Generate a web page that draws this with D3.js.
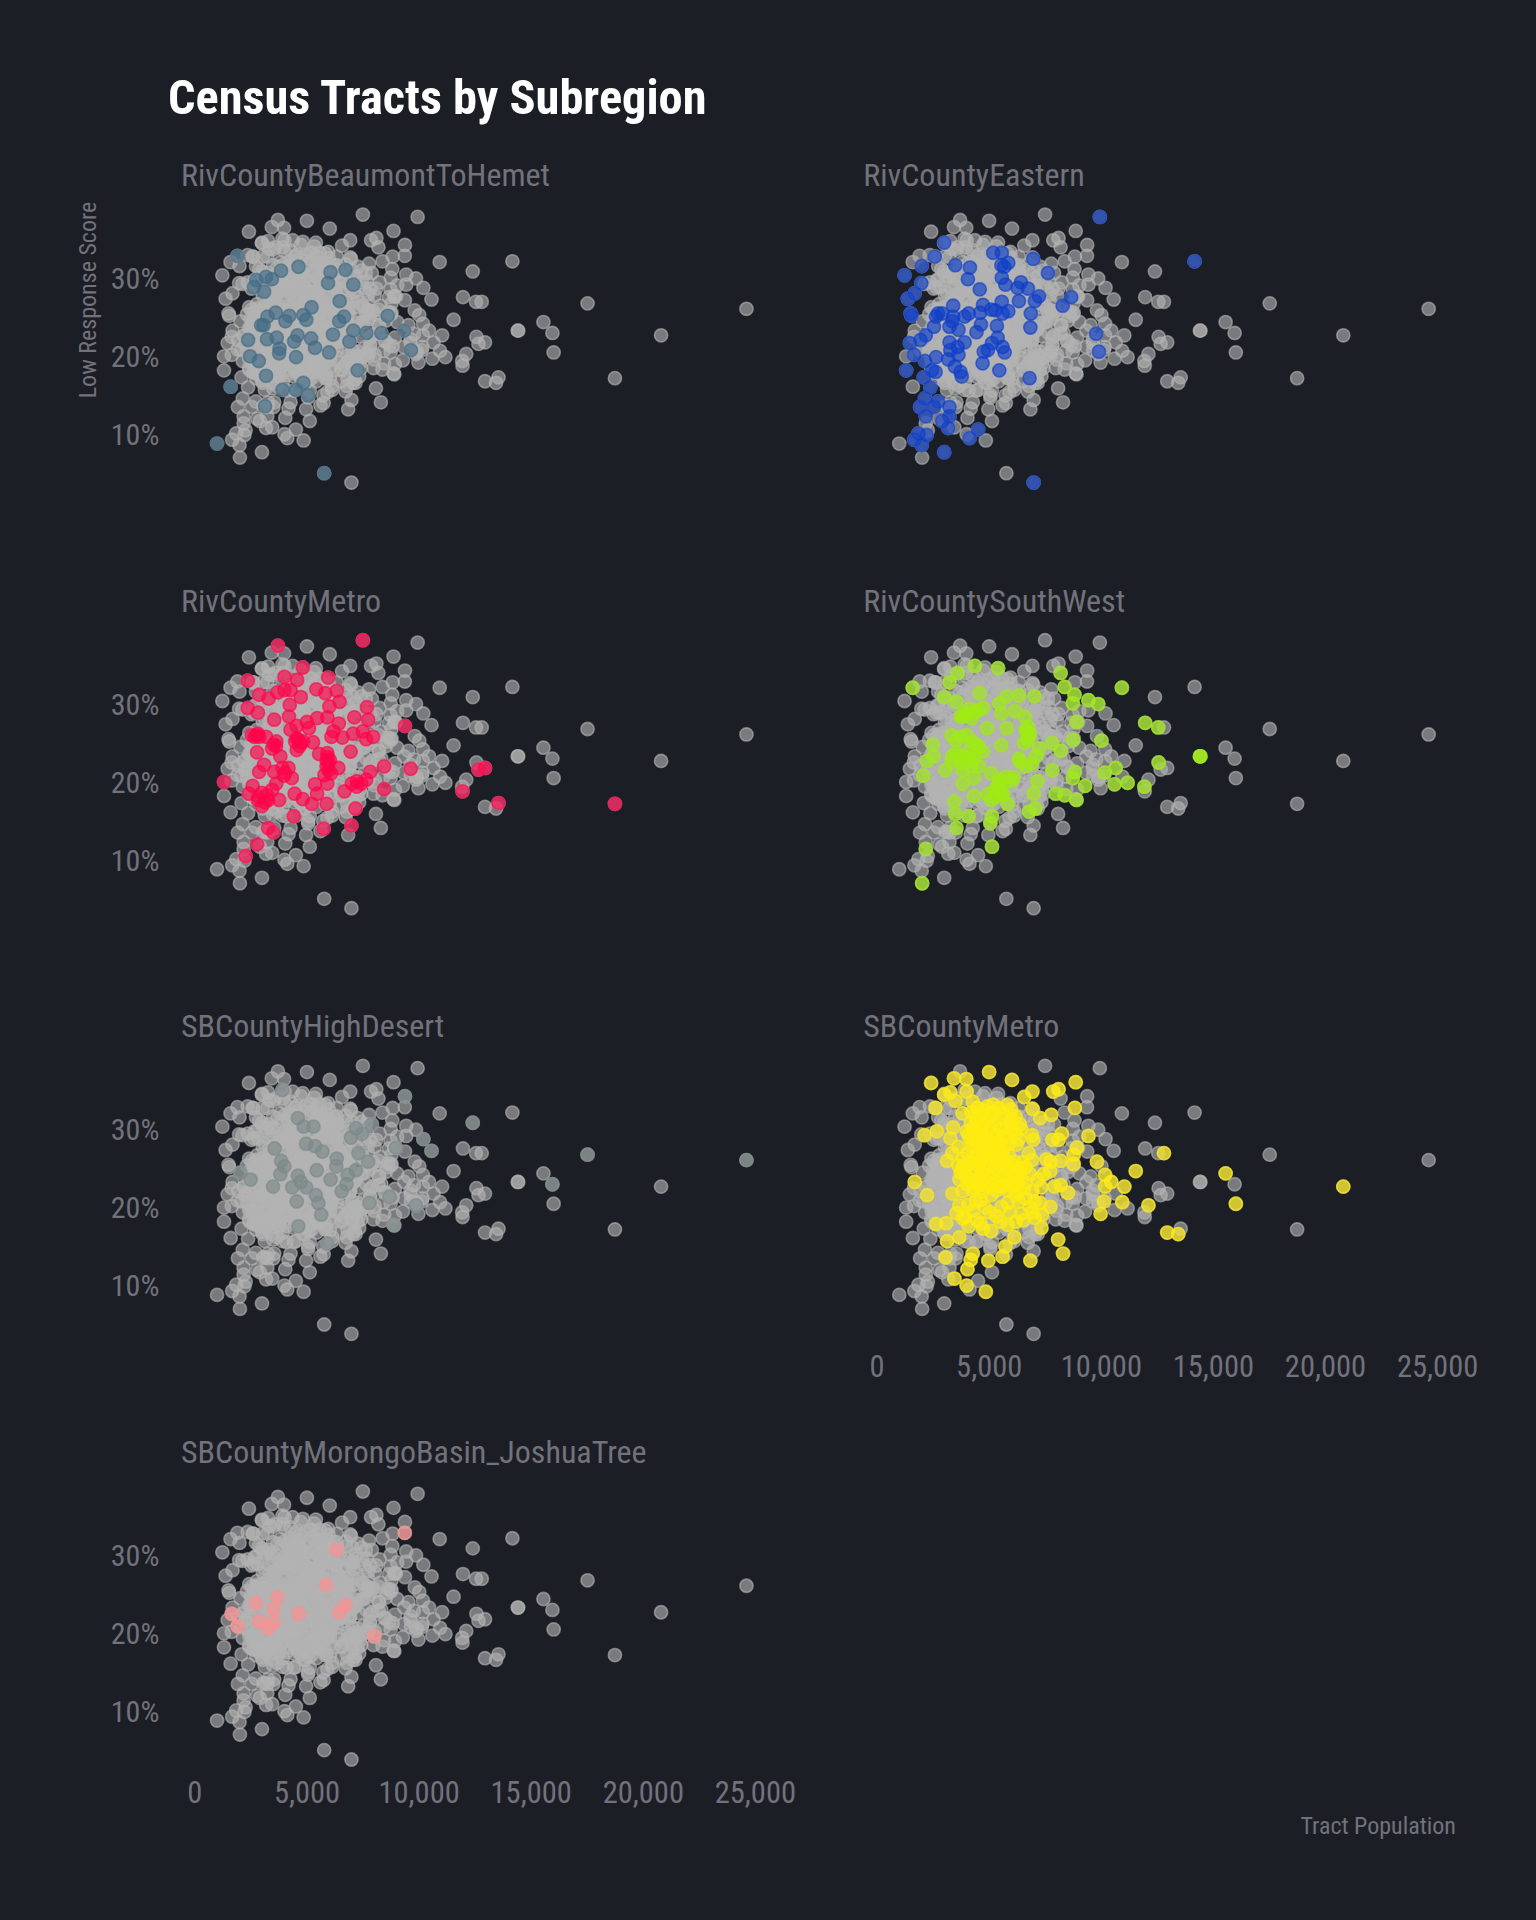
<!DOCTYPE html>
<html>
<head>
<meta charset="utf-8">
<script src="https://cdnjs.cloudflare.com/ajax/libs/d3/7.8.5/d3.min.js"></script>
<style>
  html, body { margin: 0; padding: 0; background: #1c1e26; }
  svg { display: block; }
  text { font-family: "Roboto Condensed", Roboto, sans-serif; font-stretch: condensed; }
</style>
</head>
<body>
<div id="chart"></div>
<script>
// [tract population, low response score %]
const beaumontToHemet = [[1874,33.1],[4599,31.7],[3820,31.2],[6026,31.0],[6696,31.3],[3410,30.1],[3150,30.4],[2718,30.0],[2610,29.1],[3064,28.5],[5917,29.6],[7042,29.4],[6436,27.3],[5182,26.5],[3582,25.8],[3215,25.3],[2934,24.2],[3042,24.2],[4015,24.7],[4188,25.4],[4815,25.5],[4945,24.9],[6631,25.3],[6415,24.7],[7042,23.5],[6134,23.0],[7625,23.2],[8296,23.2],[8577,25.4],[9312,23.5],[9614,21.0],[2350,22.3],[3193,22.4],[3626,22.6],[4555,22.9],[4404,22.1],[5161,22.5],[5334,21.3],[6869,22.1],[3755,21.2],[3734,20.6],[2437,20.2],[2826,19.6],[4490,20.1],[5961,20.7],[3150,17.7],[1572,16.3],[3885,15.9],[4490,15.9],[4815,16.8],[5031,15.2],[7236,18.4],[3107,13.8],[966,9.0],[5744,5.2]];
const eastern = [[9912,38.1],[14139,32.4],[6960,4.0],[2970,7.9],[2970,34.8],[2551,33.0],[1968,31.8],[1203,30.6],[1950,29.6],[1658,28.3],[1348,27.6],[1476,25.7],[1512,25.4],[3462,31.9],[4118,31.6],[4027,30.1],[4555,28.8],[5156,33.5],[5539,33.5],[5830,32.2],[5521,31.9],[5648,31.7],[5539,30.3],[5703,29.4],[6942,32.7],[7598,30.9],[6395,29.7],[6249,29.0],[6705,28.9],[7197,27.9],[7015,27.3],[6304,27.3],[6833,25.7],[6814,23.9],[8636,27.8],[8254,26.7],[9748,23.1],[9875,20.8],[6778,17.4],[5430,18.4],[4683,19.3],[4737,20.8],[4919,21.0],[5666,20.7],[5575,21.4],[5102,21.9],[5357,22.6],[5320,24.1],[4610,24.3],[4409,23.3],[5539,27.2],[5830,26.0],[5575,25.7],[5247,26.1],[5065,26.2],[4701,26.8],[4573,25.8],[4063,25.7],[3881,25.3],[3371,26.7],[3371,25.3],[3334,24.7],[3608,23.6],[3207,24.0],[2697,25.7],[2605,25.3],[2514,24.0],[2879,25.7],[2150,22.9],[1913,22.3],[1439,21.9],[1622,20.4],[2114,19.6],[2605,20.1],[2423,18.4],[2587,18.2],[3152,19.8],[3207,22.0],[3571,21.4],[3881,22.0],[3243,21.0],[3608,20.4],[3444,18.9],[3699,18.2],[3753,17.6],[1275,18.4],[2059,17.5],[2350,16.2],[2114,14.8],[2697,14.4],[1895,13.7],[2514,13.7],[3207,13.7],[2150,12.5],[3207,12.5],[2879,11.9],[3152,11.0],[4482,10.8],[4100,9.7],[2186,10.1],[1822,10.3],[1640,9.5],[1968,8.8]];
const rivMetro = [[7470,38.4],[3680,37.7],[4792,34.9],[2332,33.2],[3972,33.7],[4537,33.3],[5922,33.6],[2842,31.4],[3261,30.9],[3662,31.7],[3972,32.0],[4245,32.0],[4701,31.1],[5393,32.1],[5794,31.6],[6304,31.9],[6432,30.5],[5976,29.9],[4209,30.1],[2332,29.7],[2788,29.1],[3516,28.2],[4172,28.6],[7652,29.8],[7088,28.5],[7707,28.2],[6395,27.7],[4974,27.9],[5430,28.4],[5885,28.5],[4519,27.4],[4245,26.9],[5065,27.1],[9347,27.4],[2788,26.4],[2514,26.2],[3152,26.0],[3608,25.4],[3425,24.5],[4519,25.8],[4701,25.2],[4519,24.3],[5247,25.3],[6158,26.7],[6067,26.0],[6559,25.9],[7033,26.4],[7470,26.7],[7616,25.7],[7926,26.0],[6924,24.1],[2751,24.0],[3790,23.5],[5521,23.8],[5885,23.9],[5940,22.6],[6377,22.0],[5940,21.7],[5758,21.1],[3061,22.4],[2842,21.5],[3516,21.5],[3881,22.0],[4154,22.0],[4300,20.7],[3608,20.0],[2551,19.7],[2387,18.7],[2970,18.8],[2788,17.9],[3425,19.2],[3243,17.9],[2970,17.1],[3735,17.9],[4427,18.7],[4792,18.0],[5193,17.4],[5430,18.7],[5338,19.9],[5849,17.4],[5885,20.0],[6650,19.0],[6978,20.0],[7197,19.6],[7616,20.5],[7798,21.5],[8418,22.2],[9602,21.9],[8418,19.3],[12626,21.8],[12918,22.0],[11916,19.0],[13519,17.5],[18712,17.4],[1275,20.2],[7142,16.8],[4391,15.8],[3243,14.3],[3480,13.7],[5721,14.2],[6960,14.6],[2751,12.2],[2241,10.7],
  [2640,26.0],[2730,26.2],[2850,26.0],[4450,25.4],[4600,25.6],[4650,24.8],[4800,25.4],[5850,23.0],[5900,23.4],[6000,23.0],[5850,22.2],[2800,18.3],[3100,17.6],[3200,18.5],[3600,24.8],[3500,25.0],[7400,20.0],[7200,20.3],[6050,21.3],[4000,21.4],[3950,21.0]];
const southWest = [[4336,35.1],[5375,34.8],[3571,34.2],[3207,33.0],[1567,32.3],[2970,31.1],[4555,31.6],[3516,30.5],[5758,31.2],[6304,31.3],[6996,31.2],[8163,34.2],[8345,32.4],[8782,31.4],[8709,30.3],[9402,30.7],[9839,30.2],[10896,32.3],[11934,27.8],[12517,27.2],[8873,27.9],[8727,25.6],[9985,25.5],[8163,24.2],[7780,25.2],[14376,23.5],[14400,23.5],[12535,22.7],[10130,21.4],[10622,22.0],[10568,19.9],[11151,20.1],[11898,19.6],[9256,19.7],[8800,21.5],[8709,20.7],[7798,21.7],[7124,20.3],[7944,18.7],[8345,18.5],[8873,17.9],[6960,18.7],[7033,16.8],[6760,16.4],[5794,17.4],[5102,15.8],[5029,14.9],[5065,17.9],[5521,18.7],[4300,18.4],[3425,17.7],[3462,16.1],[4063,15.8],[3516,14.3],[2150,11.6],[5102,11.9],[1986,7.2],[3790,20.0],[4300,20.7],[3025,21.7],[2041,21.0],[2205,22.9],[2514,23.5],[2460,25.0],[3298,26.2],[3972,26.2],[4519,24.7],[4883,27.1],[5521,24.9],[5758,27.1],[6705,27.3],[6705,26.0],[6341,22.8],[6887,22.6],[7197,24.5],[5703,20.9],[6067,20.8],[5247,19.2],[5430,20.5],[3790,21.7],[3881,23.2],[4336,23.5],[4519,22.2],[5065,21.3],[4063,29.0],[4701,29.7],[3699,28.6],[5430,30.3],[5521,29.0],[6122,29.3],[6559,28.6],[3334,23.5],[4701,24.1],[6523,25.2],[7069,23.5],[3790,28.6],[4336,29.2],
  [3900,29.0],[4100,29.6],[4500,29.4],[4200,28.4],[3500,25.5],[3700,26.0],[4200,25.4],[4400,25.0],[4150,24.4],[3500,24.0],[3700,23.6],[4000,23.4],[4200,23.0],[3300,22.8],[3700,22.6],[4200,22.2],[6650,26.6],[6800,26.4],[6700,25.6],[6600,26.9],[5400,20.0],[5700,20.2],[5300,19.4],[5500,19.0],[5600,18.6],[5250,18.3],[4900,18.6],[6000,20.4],[6300,23.2],[6600,22.2]];
const highDesert = [[17491,27.0],[24579,26.3],[12371,31.1],[10531,27.5],[10167,29.0],[9347,34.5],[7871,30.9],[15924,23.2],[8837,18.0],[9839,20.5],[8946,27.9],[8655,21.6],[7762,20.8],[5612,19.3],[4591,17.8],[5885,15.6],[4573,31.7],[4828,30.6],[5266,30.6],[4938,28.4],[5338,28.1],[5666,27.4],[3535,27.8],[3826,26.2],[3972,25.5],[3790,24.5],[4573,24.3],[4701,23.5],[4318,22.8],[4938,22.8],[3462,22.9],[2460,23.8],[2004,24.7],[5411,25.0],[6031,23.8],[6304,26.5],[6286,25.5],[6796,24.4],[6741,23.2],[6523,22.3],[5375,21.8],[5484,20.8],[4519,21.0],[7270,27.2],[7707,26.1],[7160,25.0],[6942,29.2],[7160,30.4],[7434,29.7],[3881,35.3]];
const sbMetro = [[2387,36.2],[3407,36.8],[3954,36.7],[4974,37.6],[5994,36.6],[8837,36.3],[6905,35.1],[8071,35.4],[7835,35.1],[6541,34.4],[2970,34.7],[3243,35.0],[3480,33.9],[3972,35.1],[4245,33.8],[2587,33.0],[8800,33.0],[6905,32.9],[7744,32.1],[7252,31.7],[3790,32.3],[2095,29.5],[2642,30.0],[3371,30.5],[3243,29.1],[3608,28.0],[9402,29.4],[8217,29.7],[8071,28.9],[7798,28.9],[6887,29.5],[6942,28.9],[8891,27.9],[8746,27.0],[8746,25.8],[9784,26.1],[12772,27.2],[11515,24.9],[15523,24.6],[10149,24.4],[10422,23.5],[10149,22.9],[11005,22.9],[10094,21.0],[10914,20.9],[12080,20.5],[9948,19.4],[20771,22.9],[15979,20.7],[12918,17.0],[13410,16.8],[8053,16.1],[8272,14.3],[7306,17.6],[6814,13.4],[6104,16.4],[5703,15.2],[5575,13.9],[4938,13.4],[4245,14.3],[4154,13.5],[4008,12.3],[3425,11.1],[3972,10.2],[4828,9.4],[3025,13.8],[3097,15.9],[3644,16.4],[2605,18.1],[3061,18.2],[1658,23.5],[2205,21.8],[3097,26.2],[3644,20.5],[3516,19.5],[4391,21.0],[4427,18.6],[4063,17.8],[4701,17.5],[5065,17.2],[5484,18.4],[5521,20.3],[6158,18.4],[6523,18.6],[6796,20.3],[7252,20.8],[7707,20.3],[7343,19.3],[7889,22.9],[8163,23.1],[8491,22.1],[7160,23.8],[7525,26.4],[7707,26.1],[8163,26.2],[6741,27.2],[6887,26.3],[5156,33.4],[5794,33.4],[4701,32.7],[4336,32.1],[5065,32.1],[6158,31.9],[4154,31.0],[4701,31.0],[5247,31.0],[5794,30.6],[6158,29.7],[4519,29.7],[5065,29.7],[5612,29.3],[4154,28.9],[4701,28.7],[5156,28.5],[5612,27.6],[4883,27.4],[5247,26.7],[4610,26.3],[4154,25.9],[3790,25.3],[4701,25.0],[5247,25.3],[5794,25.3],[6341,25.3],[3972,24.2],[4519,24.0],[5065,24.0],[5612,24.2],[6158,24.4],[4883,22.9],[4336,22.7],[5521,22.9],[5976,22.9],[6523,22.7],[3790,22.3],[3334,22.0],[6158,21.8],[5065,21.8],[3972,30.0],[3334,27.2],
  [4450,33.0],[4900,33.2],[5400,33.0],[5950,32.8],[4200,32.4],[4650,32.2],[5200,32.5],[5600,32.3],[6000,31.6],[4400,31.5],[4900,31.6],[5450,31.7],[5900,31.2],[6350,30.9],[4250,30.4],[4600,30.5],[5000,30.5],[5500,30.3],[6000,30.2],[6400,30.3],[4050,29.5],[4350,29.3],[4800,29.4],[5300,29.5],[5800,29.2],[6300,29.0],[4400,28.7],[4950,28.8],[5400,28.6],[5850,28.4],[6200,28.3],
  [4200,28.0],[4600,27.9],[5050,27.9],[5450,27.8],[4000,27.2],[4400,27.1],[4750,27.0],[5100,26.9],[5500,27.0],[5850,26.9],[3800,26.5],[4300,26.4],[4900,26.5],[5400,26.3],[5700,26.2],[6100,26.1],[6450,26.0],[3600,25.6],[4000,25.7],[4500,25.6],[4950,25.7],[5500,25.6],[6050,25.5],[6600,25.4],[3700,24.7],[4250,24.8],[4650,24.6],[5200,24.7],[5750,24.7],[6350,24.6],[6800,24.5],[3650,23.8],[4150,23.7],[4700,23.6],[5250,23.6],[5800,23.7],[6250,23.5],[6600,23.4],[4000,23.2],[4550,23.1],[5100,23.2],[5600,23.1],[6100,23.0],[4250,22.4],[4700,22.3],[5300,22.4],[5800,22.4],[6250,22.2],
  [4600,21.2],[4050,20.6],[4800,20.2],[5800,20.8],[6300,21.0],[6600,21.4],[7000,21.0],[4250,19.8],[5000,19.6],[5900,19.6],[6400,19.4],[6900,19.6],[3900,19.0],[5300,19.1],[7000,18.9],[4600,18.2],[5800,18.0],[3800,18.8],[6900,22.3],[7300,22.8],[7400,24.5],[7700,24.9]];
const morongoBasin = [[9340,33.1],[6291,30.9],[5837,26.4],[3654,24.8],[2703,24.1],[3481,23.3],[1622,22.7],[1881,21.1],[2854,21.7],[3502,21.6],[3243,20.8],[4605,22.7],[6702,23.8],[6421,22.9],[7978,19.8]];
// grey cloud only: inside the solid mass no single subregion can be told apart
const cloudOnly = [[2400,26.5],[2750,26.9],[3050,26.6],[2300,25.6],[2650,25.5],[3000,25.3],[3350,25.8],[2550,24.6],[2850,24.4],[3200,24.6],[2400,23.8],[2750,23.6],[3100,23.6],[3450,23.8],[2600,22.8],[2950,22.7],[3300,22.8],[2250,21.9],[2600,21.9],[2950,21.8],[3350,21.9],[2300,20.8],[2700,20.9],[3100,20.8],[3450,20.9],[2400,19.9],[2750,19.8],[3200,19.9],[2600,19.0],[3000,19.0],[3400,19.2],[2850,18.3],[3200,18.4],[3500,18.2],[3800,18.9],
  [4400,20.2],[4800,19.8],[5200,19.4],[5600,19.6],[6000,19.8],[6400,20.0],[6800,19.6],[7200,19.9],[4500,19.0],[5000,18.8],[5500,18.2],[6000,18.8],[6500,18.4],[7000,18.2],[7400,18.7],[4400,17.6],[4900,16.8],[5400,17.0],[6000,17.3],[6500,17.0],[7100,17.2],[3900,17.0],[3400,16.8],[3000,16.8],[2700,17.4],[6100,15.9],[6700,15.7],
  [7500,21.2],[8000,20.4],[8400,20.9],[8900,22.6],[9300,21.4],[9600,22.4],[7800,22.6],[8200,24.2],[8500,24.8],[9000,24.6],[9500,24.2],[8900,19.2],[7500,24.6],[8000,25.6],[8600,25.9],[7700,27.2],[8000,28.0],[7500,29.0],[8700,28.8],[9000,29.3],[7000,30.2],[7400,31.2],[6700,32.0],[6300,33.0],[5300,34.3],[4700,34.5],[3900,34.2],[3300,34.0],[3000,33.0],[2700,31.8],[3000,30.7],[3400,29.5],[3800,29.3],[2500,28.9],[3000,28.0],[3300,27.8],[3700,26.9],
  [3900,20.5],[4200,19.6],[4050,19.2],[4000,21.0],[3800,20.0],[4250,20.4]];

const panelNames = ['RivCountyBeaumontToHemet', 'RivCountyEastern', 'RivCountyMetro', 'RivCountySouthWest', 'SBCountyHighDesert', 'SBCountyMetro', 'SBCountyMorongoBasin_JoshuaTree'];
const panelData = [beaumontToHemet, eastern, rivMetro, southWest, highDesert, sbMetro, morongoBasin];
const panelColors = ['#426c85', '#0f3fc8', '#ff054b', '#a0eb14', '#7c8888', '#ffec10', '#ff8f8f'];
const xTicks = [0, 5000, 10000, 15000, 20000, 25000];
const yTicks = [10, 20, 30];

const width = 1536, height = 1920;
const colX = [195.4, 877.6];
const rowY = [280, 705.65, 1131.3, 1556.95];
const textColor = '#72727b';

const svg = d3.select('#chart').append('svg')
  .attr('width', width)
  .attr('height', height);

svg.append('rect').attr('width', width).attr('height', height).attr('fill', '#1c1e26');

svg.append('text').attr('x', 168).attr('y', 114)
  .attr('fill', '#fff').attr('font-size', 48.4).attr('font-weight', 700)
  .text('Census Tracts by Subregion');

svg.append('text').attr('transform', 'translate(96,300) rotate(-90)')
  .attr('text-anchor', 'middle').attr('fill', textColor).attr('font-size', 24)
  .text('Low Response Score');

svg.append('text').attr('x', 1456).attr('y', 1834)
  .attr('text-anchor', 'end').attr('fill', textColor).attr('font-size', 24)
  .text('Tract Population');

const backdrop = panelData.flat().concat(cloudOnly);
const fmt = d3.format(',');

panelNames.forEach((name, i) => {
  const col = i % 2, row = Math.floor(i / 2);
  const x = d3.scaleLinear().domain([0, 25000]).range([colX[col], colX[col] + 560.5]);
  const y = d3.scaleLinear().domain([30, 10]).range([rowY[row], rowY[row] + 155.8]);
  const g = svg.append('g');

  g.append('text')
    .attr('x', colX[col] - 14.4).attr('y', rowY[row] - 94)
    .attr('fill', textColor).attr('font-size', 32)
    .text(name);

  g.append('g').selectAll('circle').data(backdrop).enter().append('circle')
    .attr('cx', d => x(d[0])).attr('cy', d => y(d[1])).attr('r', 6.6)
    .attr('fill', '#b3b3b3').attr('fill-opacity', 0.62)
    .attr('stroke', '#b3b3b3').attr('stroke-opacity', 0.62).attr('stroke-width', 1.6);

  g.append('g').selectAll('circle').data(panelData[i]).enter().append('circle')
    .attr('cx', d => x(d[0])).attr('cy', d => y(d[1])).attr('r', 6.6)
    .attr('fill', panelColors[i]).attr('fill-opacity', 0.65)
    .attr('stroke', panelColors[i]).attr('stroke-opacity', 0.65).attr('stroke-width', 1.6);

  if (col === 0) {
    const ay = g.append('g').attr('transform', `translate(${colX[0] - 21},-1)`)
      .call(d3.axisLeft(y).tickValues(yTicks).tickSize(0).tickPadding(15).tickFormat(d => d + '%'));
    ay.select('.domain').remove();
    ay.selectAll('text').attr('fill', textColor).attr('font-size', 30).style('font-family', null);
  }

  if (i === 5 || i === 6) {
    const ax = g.append('g').attr('transform', `translate(-1,${rowY[row] + 224})`)
      .call(d3.axisBottom(x).tickValues(xTicks).tickSize(0).tickPadding(0).tickFormat(fmt));
    ax.select('.domain').remove();
    ax.selectAll('text').attr('fill', textColor).attr('font-size', 30.5).style('font-family', null);
  }
});
</script>
</body>
</html>
